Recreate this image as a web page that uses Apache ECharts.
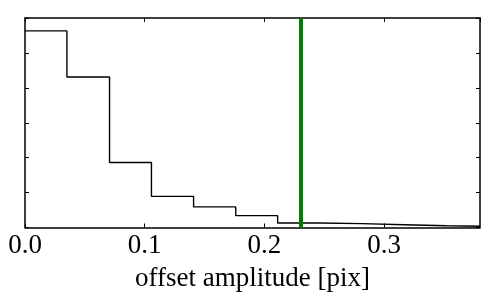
<!DOCTYPE html>
<html><head><meta charset="utf-8">
<script src="https://cdn.jsdelivr.net/npm/echarts@6/dist/echarts.min.js"></script>
<style>html,body{margin:0;padding:0;background:#fff}#c{width:500px;height:300px}</style>
</head><body><div id="c"></div>
<script>
// Histogram bin left edges (offset amplitude, pix) and counts (arbitrary units)
var binEdges = [0, 0.035, 0.0706, 0.1056, 0.1408, 0.176, 0.211, 0.246, 0.2814, 0.317, 0.352];
var binHeights = [5.63, 4.31, 1.86, 0.89, 0.59, 0.34, 0.13, 0.11, 0.08, 0.05, 0.035];
var xMax = 0.38;
var markerX = 0.229;
var xTickLabels = ['0.0', '0.1', '0.2', '0.3'];
var xLabel = 'offset amplitude [pix]';

var stepData = binEdges.map(function (e, i) { return [e, binHeights[i]]; });
stepData.push([xMax, binHeights[binHeights.length - 1]]);

var font = '"Liberation Serif", "DejaVu Serif", serif';
var axisLine = { show: true, onZero: false, lineStyle: { color: '#000', width: 1.5 } };
var tickIn = { show: true, inside: true, length: 4, lineStyle: { color: '#000', width: 1 } };

var chart = echarts.init(document.getElementById('c'), null, { renderer: 'canvas' });
chart.setOption({
  animation: false,
  backgroundColor: '#fff',
  grid: { left: 25, right: 20, top: 18, bottom: 72.5, show: false },
  xAxis: [{
    type: 'value', min: 0, max: xMax, interval: 0.1, position: 'bottom',
    axisLine: axisLine, axisTick: tickIn, splitLine: { show: false },
    axisLabel: {
      show: true, margin: 5, fontFamily: font, fontSize: 27, color: '#000',
      showMaxLabel: false,
      formatter: function (v) { var i = Math.round(v * 10); return xTickLabels[i] !== undefined ? xTickLabels[i] : ''; }
    },
    name: xLabel, nameLocation: 'middle', nameGap: 38,
    nameTextStyle: { fontFamily: font, fontSize: 27, color: '#000', verticalAlign: 'top' }
  }, {
    type: 'value', min: 0, max: xMax, interval: 0.1, position: 'top',
    axisLine: axisLine, axisTick: tickIn, splitLine: { show: false },
    axisLabel: { show: false }
  }],
  yAxis: [{
    type: 'value', min: 0, max: 6, interval: 1, position: 'left',
    axisLine: axisLine, axisTick: tickIn, splitLine: { show: false },
    axisLabel: { show: false }
  }, {
    type: 'value', min: 0, max: 6, interval: 1, position: 'right',
    axisLine: axisLine, axisTick: tickIn, splitLine: { show: false },
    axisLabel: { show: false }
  }],
  series: [{
    type: 'line', step: 'end', data: stepData, symbol: 'none',
    lineStyle: { color: '#000', width: 1.4 }, z: 3,
    markLine: {
      silent: true, symbol: ['none', 'none'], label: { show: false },
      lineStyle: { color: '#008000', width: 4, type: 'solid' },
      data: [{ xAxis: markerX }]
    }
  }]
});
</script></body></html>
